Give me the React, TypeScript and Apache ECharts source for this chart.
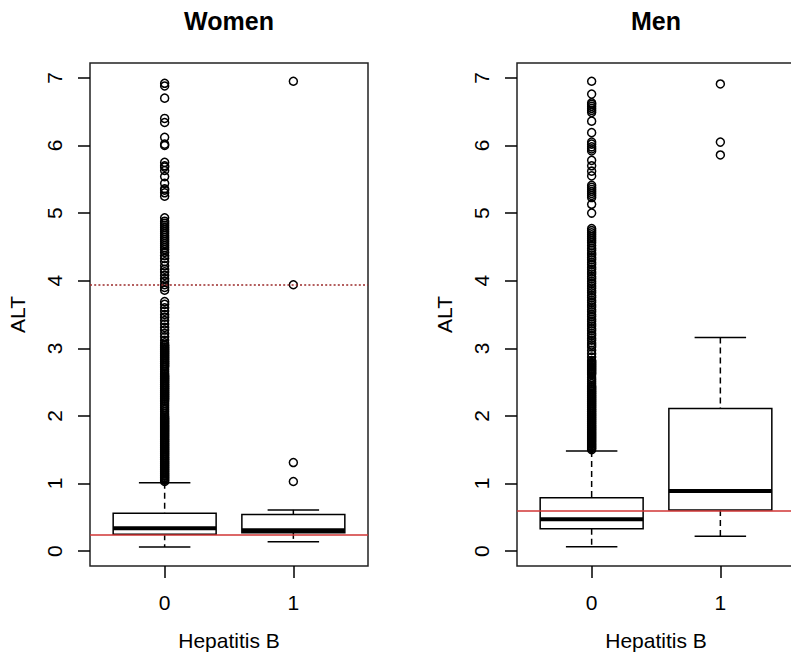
import React, { useEffect, useRef } from "react";
import * as echarts from "echarts";

// ---------- data ----------
const categories = ["0", "1"];
const yTicks = [0, 1, 2, 3, 4, 5, 6, 7];
const panelTitles = ["Women", "Men"];

// box stats: [lower whisker, Q1, median, Q3, upper whisker]
const womenBox0 = [0.06, 0.25, 0.34, 0.56, 1.01];
const womenBox1 = [0.14, 0.27, 0.31, 0.54, 0.61];
const menBox0 = [0.065, 0.33, 0.47, 0.79, 1.48];
const menBox1 = [0.22, 0.61, 0.89, 2.11, 3.16];

const womenOut0 = [
  6.92, 6.88, 6.70, 6.40, 6.34, 6.12, 6.02, 6.00, 5.75, 5.70, 5.68, 5.63, 5.54, 5.44, 5.36, 5.34, 5.30, 5.25,
  4.93, 4.88, 4.85, 4.82, 4.79, 4.76, 4.73, 4.70, 4.67, 4.64, 4.61, 4.58, 4.55, 4.52, 4.49, 4.46,
  4.42, 4.37, 4.33, 4.28, 4.22, 4.17, 4.13, 4.08, 4.03, 3.99, 3.94, 3.90, 3.86,
  3.69, 3.65, 3.60, 3.55, 3.50, 3.46, 3.41, 3.36, 3.31, 3.27, 3.22, 3.17, 3.12, 3.08,
  3.05, 3.04, 3.02, 3.01, 2.99, 2.98, 2.96, 2.95, 2.93, 2.92, 2.90, 2.89, 2.87, 2.86, 2.84, 2.83,
  2.81, 2.80, 2.78, 2.77, 2.75, 2.74, 2.72, 2.69, 2.66, 2.63, 2.61, 2.59, 2.58, 2.56, 2.55, 2.53,
  2.52, 2.50, 2.49, 2.47, 2.46, 2.44, 2.43, 2.41, 2.40, 2.38, 2.37, 2.35, 2.34, 2.32, 2.31, 2.29,
  2.28, 2.26, 2.25, 2.23, 2.21, 2.18, 2.15, 2.12, 2.09, 2.06, 2.03, 2.00, 1.98, 1.96, 1.95, 1.93,
  1.92, 1.90, 1.89, 1.87, 1.86, 1.84, 1.83, 1.81, 1.80, 1.78, 1.77, 1.75, 1.74, 1.72, 1.71, 1.69,
  1.68, 1.66, 1.65, 1.63, 1.62, 1.60, 1.59, 1.57, 1.56, 1.54, 1.53, 1.51, 1.50, 1.48, 1.47, 1.45,
  1.44, 1.42, 1.41, 1.39, 1.38, 1.36, 1.35, 1.33, 1.32, 1.30, 1.29, 1.27, 1.26, 1.24, 1.23, 1.21,
  1.20, 1.18, 1.17, 1.15, 1.14, 1.12, 1.11, 1.09, 1.08, 1.06, 1.05, 1.03,
];
const womenOut1 = [6.95, 3.94, 1.31, 1.03];

const menOut0 = [
  6.95, 6.76, 6.63, 6.61, 6.58, 6.55, 6.52, 6.49, 6.36, 6.19, 6.05, 6.02, 5.98, 5.95, 5.92,
  5.78, 5.70, 5.62, 5.55, 5.41, 5.38, 5.35, 5.32, 5.29, 5.26, 5.23, 5.13, 5.00,
  4.77, 4.74, 4.71, 4.68, 4.65, 4.62, 4.59, 4.56, 4.52,
  4.48, 4.45, 4.41, 4.38, 4.34, 4.31, 4.27, 4.24, 4.20, 4.17, 4.13, 4.10, 4.06, 4.03, 3.99, 3.96,
  3.92, 3.89, 3.85, 3.82, 3.78, 3.75, 3.71, 3.68, 3.64, 3.61, 3.57, 3.54, 3.50, 3.47, 3.43, 3.40,
  3.36, 3.33, 3.29, 3.26, 3.22, 3.19, 3.15, 3.12, 3.08, 3.05, 3.02, 2.97, 2.92, 2.87,
  2.82, 2.81, 2.79, 2.78, 2.76, 2.75, 2.73, 2.72, 2.70, 2.69, 2.67, 2.66, 2.64, 2.63, 2.61,
  2.57, 2.54, 2.51, 2.48, 2.45, 2.43, 2.42, 2.40, 2.39, 2.37, 2.36, 2.34, 2.33, 2.31, 2.30, 2.28,
  2.27, 2.25, 2.24, 2.22, 2.21, 2.19, 2.18, 2.16, 2.15, 2.13, 2.12, 2.10, 2.09, 2.07, 2.06, 2.04,
  2.03, 2.01, 2.00, 1.98, 1.97, 1.95, 1.94, 1.92, 1.91, 1.89, 1.88, 1.86, 1.85, 1.83, 1.82, 1.80,
  1.79, 1.77, 1.76, 1.74, 1.73, 1.71, 1.70, 1.68, 1.67, 1.65, 1.64, 1.62, 1.61, 1.59, 1.58, 1.56,
  1.55, 1.53, 1.52, 1.50,
];
const menOut1 = [6.91, 6.05, 5.86];

const womenRefSolid = 0.237;
const womenRefDotted = 3.94;
const menRefSolid = 0.59;

// ---------- chart ----------
const FONT = '"Liberation Sans", Arial, Helvetica, sans-serif';

function boxRender(params: any, api: any) {
  const x = api.value(0);
  const lo = api.value(1), q1 = api.value(2), med = api.value(3), q3 = api.value(4), hi = api.value(5);
  const c = (xv: number, yv: number) => api.coord([xv, yv]);
  const [xl, yq3] = c(x - 0.4, q3);
  const [xr, yq1] = c(x + 0.4, q1);
  const [xm, ymed] = c(x, med);
  const ylo = c(x, lo)[1];
  const yhi = c(x, hi)[1];
  const sl = c(x - 0.2, 0)[0];
  const sr = c(x + 0.2, 0)[0];
  const solid = { stroke: "#000", lineWidth: 1.5 };
  const dashed = { stroke: "#000", lineWidth: 1.5, lineDash: [6, 4] };
  return {
    type: "group",
    children: [
      { type: "line", shape: { x1: xm, y1: yhi, x2: xm, y2: yq3 }, style: dashed },
      { type: "line", shape: { x1: xm, y1: yq1, x2: xm, y2: ylo }, style: dashed },
      { type: "line", shape: { x1: sl, y1: yhi, x2: sr, y2: yhi }, style: solid },
      { type: "line", shape: { x1: sl, y1: ylo, x2: sr, y2: ylo }, style: solid },
      {
        type: "rect",
        shape: { x: xl, y: yq3, width: xr - xl, height: yq1 - yq3 },
        style: { fill: "#fff", stroke: "#000", lineWidth: 1.5 },
      },
      { type: "line", shape: { x1: xl, y1: ymed, x2: xr, y2: ymed }, style: { stroke: "#000", lineWidth: 4 } },
    ],
  };
}

export default function App() {
  const ref = useRef<HTMLDivElement>(null);
  useEffect(() => {
    document.body.style.margin = "0";
    const chart = echarts.init(ref.current!, null, { renderer: "svg" });

    const grids = [
      { left: 90, top: 63, width: 278, height: 503 },
      { left: 517, top: 63, width: 278, height: 503 },
    ].map((g) => ({
      ...g,
      show: true,
      borderColor: "#222",
      borderWidth: 1.5,
      backgroundColor: "transparent",
      containLabel: false,
      outerBoundsMode: "none",
    }));

    const xAxes = [0, 1].map((i) => ({
      type: "value",
      gridIndex: i,
      position: "bottom",
      min: -0.58,
      max: 1.58,
      name: "Hepatitis B",
      nameLocation: "middle",
      nameGap: 64,
      nameTextStyle: { fontSize: 21, fontFamily: FONT, color: "#000" },
      axisLine: { show: false, onZero: false },
      splitLine: { show: false },
      axisTick: {
        show: true,
        inside: false,
        length: 12,
        customValues: [0, 1],
        lineStyle: { color: "#000", width: 1.5 },
      },
      axisLabel: {
        show: true,
        customValues: [0, 1],
        margin: 26,
        fontSize: 21,
        fontFamily: FONT,
        color: "#000",
        formatter: (v: number) => categories[Math.round(v)],
      },
    }));

    const yAxes = [0, 1].map((i) => ({
      type: "value",
      gridIndex: i,
      position: "left",
      min: -0.22,
      max: 7.22,
      name: "ALT",
      nameLocation: "middle",
      nameRotate: 90,
      nameGap: 62,
      nameTextStyle: { fontSize: 21, fontFamily: FONT, color: "#000" },
      axisLine: { show: false, onZero: false },
      splitLine: { show: false },
      axisTick: {
        show: true,
        inside: false,
        length: 12,
        customValues: yTicks,
        lineStyle: { color: "#000", width: 1.5 },
      },
      axisLabel: {
        show: true,
        customValues: yTicks,
        rotate: 90,
        margin: 25,
        fontSize: 21,
        fontFamily: FONT,
        color: "#000",
        formatter: (v: number) => String(v),
      },
    }));

    const outlierStyle = {
      color: "rgba(0,0,0,0)",
      borderColor: "#000",
      borderWidth: 1.5,
      opacity: 1,
    };

    const panels = [
      { boxes: [womenBox0, womenBox1], outs: [womenOut0, womenOut1], refs: [{ v: womenRefSolid, dotted: false }, { v: womenRefDotted, dotted: true }] },
      { boxes: [menBox0, menBox1], outs: [menOut0, menOut1], refs: [{ v: menRefSolid, dotted: false }] },
    ];

    const series: any[] = [];
    panels.forEach((p, i) => {
      series.push({
        type: "custom",
        name: panelTitles[i] + " box",
        xAxisIndex: i,
        yAxisIndex: i,
        z: 2,
        renderItem: boxRender,
        encode: { x: 0, y: [1, 2, 3, 4, 5] },
        data: p.boxes.map((b, k) => [k, ...b]),
        silent: true,
      });
      series.push({
        type: "scatter",
        name: panelTitles[i] + " outliers",
        xAxisIndex: i,
        yAxisIndex: i,
        z: 3,
        symbol: "circle",
        symbolSize: 8,
        itemStyle: outlierStyle,
        large: false,
        progressive: 0,
        data: [
          ...p.outs[0].map((v) => [0, v]),
          ...p.outs[1].map((v) => [1, v]),
        ],
        silent: true,
        markLine: {
          silent: true,
          symbol: ["none", "none"],
          label: { show: false },
          z: 10,
          lineStyle: { color: "#d03434", width: 1.5, type: "solid", opacity: 1 },
          data: p.refs.map((r) =>
            r.dotted
              ? { yAxis: r.v, lineStyle: { color: "#9b2a2a", width: 1.6, type: [2, 2.2], opacity: 1 } }
              : { yAxis: r.v, lineStyle: { color: "#d03434", width: 1.5, type: "solid", opacity: 1 } }
          ),
        },
      });
    });

    const titleStyle = (text: string, x: number) => ({
      type: "text",
      x,
      y: 21,
      style: {
        text,
        font: `bold 25px ${FONT}`,
        fill: "#000",
        align: "center",
        verticalAlign: "middle",
        textAlign: "center",
        textVerticalAlign: "middle",
      },
    });

    chart.setOption({
      animation: false,
      backgroundColor: "#fff",
      grid: grids,
      xAxis: xAxes,
      yAxis: yAxes,
      series,
      graphic: [titleStyle(panelTitles[0], 229), titleStyle(panelTitles[1], 656)],
    });
    return () => chart.dispose();
  }, []);
  return (
    <div
      ref={ref}
      style={{ position: "absolute", left: 0, top: 0, width: 791, height: 657 }}
    />
  );
}
